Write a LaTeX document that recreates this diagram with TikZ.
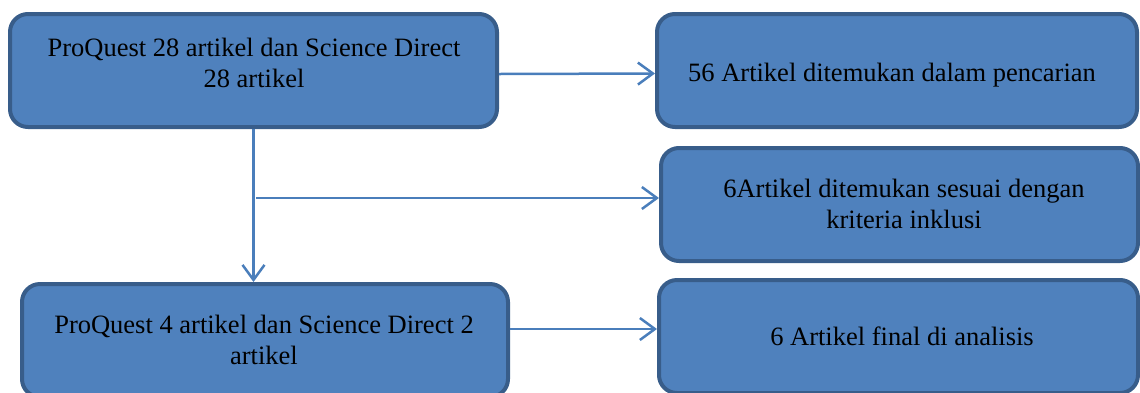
\documentclass[tikz,border=0pt]{standalone}
\usepackage{fontspec}
\setmainfont{Liberation Serif}
\usetikzlibrary{arrows.meta}
\definecolor{boxfill}{HTML}{4F81BD}
\definecolor{boxline}{HTML}{385D8A}
\definecolor{arrowc}{HTML}{4A7EBB}
\tikzset{
  box/.style={draw=boxline, fill=boxfill, line width=4pt, rounded corners=18pt, inner sep=0pt},
  lbl/.style={font=\fontsize{26.5}{30.5}\selectfont, align=center, inner sep=0pt, anchor=base, text=black},
  arr/.style={draw=arrowc, line width=2.5pt, -{Straight Barb[length=15pt,width=22pt]}}
}
\begin{document}
\begin{tikzpicture}[x=1pt,y=-1pt]
\useasboundingbox (0,0) rectangle (1140,392);
\clip (0,0) rectangle (1140,392);
% boxes
\node[box, minimum width=487pt, minimum height=113pt] (A) at (253.5,70.5) {};
\node[box, minimum width=480pt, minimum height=113pt] (B) at (897,70.5) {};
\node[box, minimum width=477pt, minimum height=113pt] (C) at (899.5,204.5) {};
\node[box, minimum width=486pt, minimum height=113pt] (D) at (265,340.5) {};
\node[box, minimum width=479pt, minimum height=113pt] (E) at (898.5,336.5) {};
% texts (base = baseline of the last line)
\node[lbl] (tA) at (254,87) {ProQuest 28 artikel dan Science Direct\\28 artikel};
\node[lbl] (tB) at (892,81) {56 Artikel ditemukan dalam pencarian};
\node[lbl] (tC) at (904,228) {6Artikel ditemukan sesuai dengan\\kriteria inklusi};
\node[lbl] (tD) at (264,364) {ProQuest 4 artikel dan Science Direct 2\\artikel};
\node[lbl] (tE) at (902,345) {6 Artikel final di analisis};
% connectors
\draw[arr] ([yshift=-3.5pt]A.east) -- ([yshift=-3pt]B.west);
\draw[arr] (A.south) -- (A.south |- D.north);
\coordinate (br) at (256,198);
\draw[arr] (br) -- (br -| C.west);
\coordinate (dE) at ([yshift=11.5pt]D.east);
\draw[arr] (dE) -- (dE -| E.west);
\end{tikzpicture}
\end{document}
